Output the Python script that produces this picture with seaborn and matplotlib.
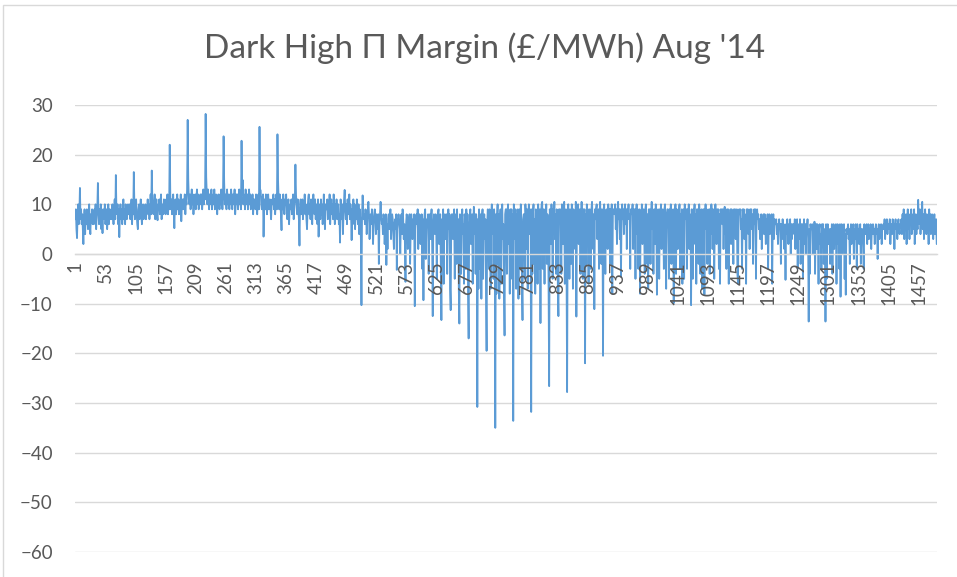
import numpy as np
import pandas as pd
import matplotlib
matplotlib.use("Agg")
import matplotlib.pyplot as plt
from matplotlib.patches import Rectangle
import seaborn as sns

# ---- data: 48 settlement periods x 31 days (values read/estimated from the chart) ----
margin_by_period = [
    [7, 9, 5, 3.2, 8, 10, 6, 8, 13.3, 7, 9, 6, 8, 5, 2, 7, 9, 4, 8, 6, 9, 7, 5, 8, 10, 6, 4, 8, 7, 9, 6],
    [8, 6, 9, 7, 10, 5, 8, 9, 14.3, 8, 6, 9, 7, 10, 5, 8, 4.2, 9, 7, 8, 10, 6, 8, 9, 5, 7, 10, 6, 9, 8, 7],
    [9, 7, 10, 8, 6, 9, 11, 7, 15.9, 9, 8, 10, 6, 9, 3.4, 8, 10, 7, 9, 6, 8, 11, 7, 9, 6, 10, 8, 7, 9, 10, 8],
    [8, 10, 7, 9, 11, 6, 9, 8, 16.5, 10, 7, 9, 11, 8, 6, 5, 9, 10, 7, 9, 11, 8, 6, 9, 10, 7, 9, 8, 10, 7, 9],
    [9, 11, 8, 10, 7, 9, 12, 8, 16.8, 11, 9, 8, 10, 12, 7, 9, 11, 8, 6.8, 10, 9, 11, 8, 10, 12, 7, 9, 10, 8, 11, 9],
    [10, 8, 11, 9, 12, 8, 10, 9, 22, 12, 9, 11, 8, 10, 12, 9, 5.2, 10, 11, 8, 10, 12, 9, 11, 8, 10, 9, 12, 6.6, 10, 11],
    [9, 11, 10, 12, 8, 11, 10, 13, 27, 15, 11, 10, 12, 9, 11, 13, 10, 12, 8, 11, 10, 12, 9, 11, 13, 10, 12, 9, 11, 10, 12],
    [10, 12, 9, 11, 13, 10, 12, 11, 28.2, 15.5, 12, 10, 13, 11, 9, 12, 10, 11, 13, 9, 11, 12, 10, 13, 9, 11, 12, 10, 8, 11, 12],
    [11, 9, 12, 10, 13, 11, 9, 12, 23.7, 14.5, 10, 12, 11, 9, 13, 10, 12, 11, 9, 12, 10, 13, 11, 9, 12, 10, 11, 13, 8, 10, 12],
    [10, 12, 9, 11, 13, 10, 12, 9, 22.8, 12, 14.9, 10, 12, 11, 9, 13, 10, 11, 12, 9, 11, 13, 10, 12, 9, 11, 10, 12, 8, 11, 10],
    [11, 9, 12, 10, 8, 11, 12, 9, 25.6, 13, 12.8, 10, 9, 11, 12, 3.5, 10, 11, 9, 12, 10, 8, 11, 12, 9, 10, 11, 9, 7, 10, 11],
    [10, 12, 9, 11, 8, 10, 12, 9, 24.1, 14.9, 11, 9, 12, 10, 8, 4.8, 11, 9, 12, 10, 8, 11, 10, 12, 9, 7, 10, 11, 6, 9, 10],
    [9, 11, 8, 10, 12, 7, 9, 11, 18, 12, 10, 8, 11, 9, 7, 1.7, 10, 11, 8, 9, 11, 7, 10, 9, 12, 8, 10, 7, 5, 9, 11],
    [12, 8, 10, 7, 11, 9, 6, 10, 12, 9, 8, 11, 7, 10, 9, 6, 11, 3.5, 9, 10, 7, 11, 8, 10, 6, 9, 12, 8, 5, 10, 9],
    [9, 11, 7, 10, 8, 12, 6, 9, 11, 8, 10, 7, 12, 9, 6, 10, 8, 11, 7, 9, 10, 6, 8, 2.3, 11, 9, 7, 10, 4, 8, 11],
    [12.9, 9, 7, 10, 6, 11, 8, 9, 12, 7, 10, 8, 2.8, 9, 6, 11, 8, 10, 5, 9, 7, 11, 8, 6, 10, 4, 9, 7, 3, -10.3, 8],
    [11.8, 9, 7, 8, 6, 9, 8, 4, 7, 9, 10.5, 8, 3, 7, 8, 6, 9, 7, 2, 6, 8, 9, 7, 4, 8, 7, 5, 8, -2, 6, 8],
    [10.5, 8, 6, 7, 4, 8, 7, 2, 6, 8, -2.2, 6, 1, 7, 8, 5, 7, 9, 3, 6, 8, 7, 4, 1, 6, 7, 5, 8, -3.2, 5, 7],
    [8, 7, 5, 0, 6, 8, 4, 9, 7, 3, 6, 2, -5.6, 6, 8, 7, 1, 5, 7, 8, -2, 5, 8, 6, 3, 7, 4, 8, -10.5, 5, 7],
    [8, 6, 9, 1, 5, 8, 7, 2, 6, 8, -3, 7, -9.3, 6, 8, 9, -1, 5, 7, 6, 8, -4, 6, 8, 3, 7, 9, 2, -12.5, 6, 8],
    [7, 4, 8, 6, -5, 7, 8, 9, 2, 6, 8, -3, -13.3, 7, 5, 9, -6, 6, 8, 3, 7, 8, -4, 6, 9, 5, 8, -7, -11.3, 6, 8],
    [8, 3, 7, 9, -5, 6, 8, -2, 9, 5, 7, -7, -14, 8, 6, -4, 7, 9, 4, 6, -6, 8, 7, -3, 9, 6, 8, -8, -17, 6, 8],
    [9, 2, 7, 8, -6, 6, 9.5, 4, 8, -4, 8, 6, -30.8, 7, -7, 9, 6, -3, 8, -9, 7, 9, -5, 5, 8, 3, 7, -8, -19.5, 6, 9],
    [8, -3, 9, 6, -7, 8, 10, 4, 7, -5, 9, 6, -35, 8, -8, 7, 10, -2, 8, -9, 6, 9, -6, 7, 10, 3, 6, -7, -16.4, 8, 9],
    [9, -4, 8, 10, 2, 7, -8, 9, 6, 9, -5, 8, -33.6, 10, 3, 7, 9, -7, 8, 5, 9, -9, 6, 9, -3, 10, 6, -6, -13.3, 7, 8],
    [8, -5, 10, 7, 1, 9, -7, 8, 10, 4, 9, 6, -31.8, 9, -4, 8, 10, -2, 7, -8, 9, 6, 8, -6, 10, 7, -3, 9, -13.9, 8, 10],
    [10.5, -3, 9, 7, -6, 9, 5, 10, -2, 8, 7, -7, -26.6, 9, 8, 2, 10, 6, -5, 9, 7, 10.5, 3, 8, -4, 9, 7, -7, -12.5, 9, 7],
    [9, 6, -4, 10, 8, 2, 9, 10.5, -6, 7, 9, -3, -27.8, 8, 10, 5, -5, 9, 7, -2, 10, 8, -7, 9, 6, 8, 1, 10.5, -12.6, 8, 9],
    [10, 2, 8, 9, -4, 7, 10.5, 6, -5, 9, 7, 9, -22, 8, -2, 10, 7, 9, -6, 8, 9, 4, -3, 9, 10.5, 7, 1, 8, -11.1, 9, 7],
    [9, 10, 3, 7, 9, -3, 8, 10.5, 6, -2, 9, 7, -20.5, 9, 10, 5, -4, 8, 9, 6, 1, 10, 8, 9, -2, 9, 7, 10, -8, 8, 9],
    [9, 8, 10, 5, 9, 2, 8, 10.5, 7, 9, 3, 9, -4.6, 8, 10, 7, 9, 4, 8, 10, 6, 9, 1, 9, 8, 10, 7, 8, -3, 9, 9],
    [8, 10, 1, 9, 7, 9, -5, 8, 10, 4, 9, -3, 7, 9, -8, 8, 6, 10, 2, 8, 9, 5, -4, 9, 10, 7, -2, 8, -7, 9, 7],
    [9, -2, 8, 10.5, 5, 9, -4, 8, 9, 2, 10, 7, -8.2, 8, 9, 4, -5, 9, 7, 10, 1, 8, 9, 6, -3, 9, 10, 3, -7, 8, 9],
    [9, 5, -5, 9, 7, 10, -2, 8, 4, 9, -9.9, 8, 6, 10, -4, 9, 5, 1, 9, 8, 10, -3, 8, 6, 9, -6, 7, 9, -5, 10, 7],
    [8, 9, -3, 9, 6, 10, 1, 8, 7, -10.3, 9, 5, -5, 9, 7, 10, 2, 8, -6, 9, 6, 9, -2, 10, 7, -4, 8, 9, -7, 8, 9],
    [9, -8.2, 7, 10, 5, 9, -2, 8, 7, 9, -4, 9, 4, 10, 8, 1, 9, 6, -5, 8, 10, 7, 2, 9, 7, 9, -3, 8, -6, 9, 8],
    [9, 6, 9, 1, 7, 9.5, 4, 8, -3, 9, 7, 9, -6, 8, 5, 9, 2, 9, 7, 8, -2, 9, 7, 9, 3, 8, 9, -4, -6, 8, 9],
    [8, 9, 5, 7, -3, 9, 7, 9, 3, 8, 6, -6, 9, 7, 9, 4, 8, 1, 9, 7, 9, 5, 8, -2, 7, 9, 6, 9, -5, 8, 9],
    [7, 8, 5, 7, 3, 6, 8, 1, 7, 6, 8, 4, 8, 6, 2, 7, 5, 8, -3, 6, 8, 4, 7, 6, 8, -6, 6, 8, 3, 7, 6],
    [6, 7, 4, 6, 2, 5, 7, 5, 6, -2, 6, 3, 7, 5, 6, 1, 5, -5.2, 6, 4, 7, 5, 2, 6, 5, 7, 0, 6, 3, 6, 5],
    [6, 4, 7, 1, 6, 5, 7, -3, 5, 6, 3, 7, -2, 6, 4, 6, -5, 5, 7, 2, 6, 0, 6, 5, 7, 3, -13.6, 5, -4, 6, 5],
    [5, 6, 0, 5, 3, 6.5, -4, 4, 6, 1, 6, 4, -6, 5, 6, 2, 4, -3, 6, 3, 6, -2, 5, 4, -13.6, 6, -5, 4, 6, 2, 5],
    [5, -2, 5, 3, 6, -4, 4, 6, 1, 5, 4, 6, -6, 4, 6, 2, 5, -3, 6, -8.6, 4, 6, 0, 5, 3, 6, -5, 4, -8.2, 5, 4],
    [5, 6, 3, 5, -2, 4, 6, 2, 5, 4, 6, -1, 5, 3, 6, 4, -3, 6, 4, 5, 2, 5, 6, -2, 5, 4, 5, 1, -3, 6, 4],
    [5, 4, 6, 2, 5, 6, 3, 5, 4, 6, 1, 5, 4, 6, 4, 5, 2, 5, 6, 4, 5, -1, 5, 6, 3, 5, 4, 6, 2, 5, 5],
    [6, 5, 7, 3, 6, 5, 7, 4, 6, 5, 6, 7, 2, 5, 6, 4, 7, 5, 6, 1, 6, 7, 5, 6, 3, 6, 7, 5, 4, 6, 6],
    [7, 4, 8, 5, 9, 3, 7, 6, 8, 2, 6, 9, 5, 7, 3, 8, 6, 9, 4, 7, 8, 5, 9, 2, 6, 8, 4, 7, 5, 10.9, 7],
    [6, 9, 4, 7, 8, 10.5, 5, 8, 3, 7, 9, 6, 4, 8, 5, 7, 2, 9, 6, 8, 4, 7, 8, 5, 3, 6, 8, 4, 5, 7, 2],
]
margin = [v for row in margin_by_period for v in row]
point_index = list(range(1, len(margin) + 1))
tick_values = list(range(1, 1458, 52))
y_ticks = [30, 20, 10, 0, -10, -20, -30, -40, -50, -60]
title_text = "Dark High \u03a0 Margin (\u00a3/MWh) Aug '14"

df = pd.DataFrame({"idx": point_index, "margin": margin})

sns.set_theme(style="white")
plt.rcParams["font.family"] = ["Lato", "DejaVu Sans"]

W, H = 957, 577
fig = plt.figure(figsize=(W / 100, H / 100), dpi=100)
ax = fig.add_axes([75 / W, 1 - 552 / H, (937 - 75) / W, (552 - 105) / H])

sns.lineplot(data=df, x="idx", y="margin", ax=ax, color="#5B9BD5",
             linewidth=1.3, estimator=None, zorder=2)

# axis line crossing at zero (set before ticks: set_position resets ticks)
for s in ["top", "right", "left"]:
    ax.spines[s].set_visible(False)
ax.spines["bottom"].set_position(("data", 0))
ax.spines["bottom"].set_color("#D9D9D9")
ax.spines["bottom"].set_linewidth(1.0)

ax.set_xlim(0.5, len(margin) + 0.5)
ax.set_ylim(-60, 30)
ax.set_yticks(y_ticks)
ax.set_xticks(tick_values)
ax.set_xticklabels([str(t) for t in tick_values])
ax.set_xlabel("")
ax.set_ylabel("")

ax.grid(axis="y", color="#D9D9D9", linewidth=1.0)
ax.grid(axis="x", visible=False)
ax.set_axisbelow(True)
ax.xaxis.set_zorder(5)

ax.tick_params(axis="y", length=0, pad=16, labelsize=13.5, labelcolor="#595959")
ax.tick_params(axis="x", length=0, pad=5, labelsize=13.5, labelcolor="#595959",
               labelrotation=90)
for lab in ax.get_xticklabels():
    lab.set_verticalalignment("top")
    lab.set_horizontalalignment("center")

fig.text(485 / W, 1 - 48 / H, title_text, ha="center", va="center",
         fontsize=24, color="#595959")

fig.patches.append(Rectangle((3 / W, -0.01), 1.0, 1 - 5 / H + 0.01,
                             transform=fig.transFigure, fill=False,
                             edgecolor="#D9D9D9", linewidth=1.0, clip_on=False))

fig.savefig("out.png", dpi=100)
